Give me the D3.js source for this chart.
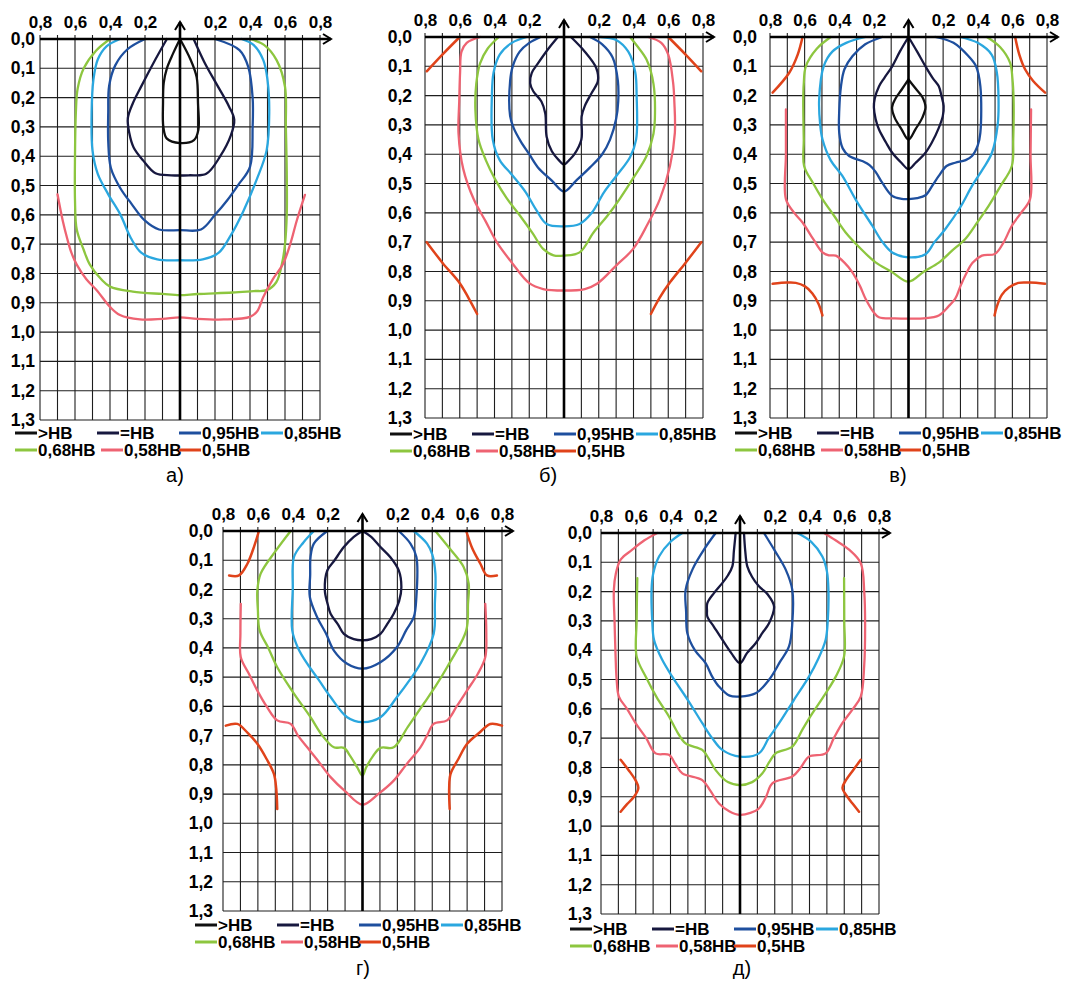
<!DOCTYPE html>
<html><head><meta charset="utf-8">
<script src="https://cdn.jsdelivr.net/npm/d3@7"></script>
<style>html,body{margin:0;padding:0;background:#fff;} svg{display:block;}</style>
</head><body>
<svg id="c" width="1068" height="983"></svg>
<script>
// ---------- tick values / labels ----------
const xTickValues = [-0.8,-0.6,-0.4,-0.2,0.2,0.4,0.6,0.8];
const yTickValues = [0,0.1,0.2,0.3,0.4,0.5,0.6,0.7,0.8,0.9,1.0,1.1,1.2,1.3];
const xGridValues = [-0.8,-0.7,-0.6,-0.5,-0.4,-0.3,-0.2,-0.1,0,0.1,0.2,0.3,0.4,0.5,0.6,0.7,0.8];
const legendLabels = [">НВ","=НВ","0,95НВ","0,85НВ","0,68НВ","0,58НВ","0,5НВ"];
const legendKeys = ["gt","eq","p95","p85","p68","p58","p5"];
const captions = ["а)","б)","в)","г)","д)"];

// ---------- panel а ----------
const a_gt = [[0,0],[-0.04,0.05],[-0.075,0.1],[-0.093,0.15],[-0.097,0.22],[-0.095,0.3],[-0.075,0.34],[0,0.355],[0.08,0.345],[0.105,0.31],[0.103,0.22],[0.095,0.13],[0.06,0.07],[0,0]];
const a_eq = [[-0.075,0],[-0.15,0.08],[-0.22,0.16],[-0.27,0.22],[-0.298,0.27],[-0.29,0.32],[-0.265,0.37],[-0.21,0.415],[-0.14,0.458],[-0.05,0.465],[0.05,0.465],[0.15,0.46],[0.23,0.4],[0.29,0.33],[0.31,0.275],[0.28,0.23],[0.21,0.155],[0.14,0.08],[0.078,0]];
const a_95 = [[-0.2,0],[-0.3,0.035],[-0.37,0.09],[-0.405,0.16],[-0.41,0.25],[-0.41,0.35],[-0.395,0.44],[-0.34,0.51],[-0.28,0.56],[-0.2,0.62],[-0.12,0.65],[0,0.652],[0.12,0.65],[0.2,0.6],[0.27,0.55],[0.33,0.5],[0.4,0.436],[0.415,0.3],[0.415,0.2],[0.39,0.095],[0.34,0.038],[0.2,0]];
const a_85 = [[-0.343,0],[-0.42,0.025],[-0.47,0.07],[-0.495,0.14],[-0.505,0.25],[-0.5,0.38],[-0.47,0.46],[-0.41,0.53],[-0.34,0.6],[-0.28,0.68],[-0.22,0.73],[-0.13,0.752],[0,0.755],[0.13,0.752],[0.22,0.73],[0.29,0.67],[0.36,0.59],[0.438,0.48],[0.495,0.38],[0.51,0.25],[0.5,0.14],[0.476,0.072],[0.42,0.02],[0.352,0]];
const a_68 = [[-0.4,0],[-0.48,0.04],[-0.55,0.1],[-0.585,0.17],[-0.595,0.25],[-0.6,0.4],[-0.6,0.55],[-0.59,0.65],[-0.55,0.72],[-0.515,0.77],[-0.45,0.82],[-0.4,0.845],[-0.27,0.862],[-0.1,0.87],[0,0.874],[0.1,0.87],[0.3,0.865],[0.42,0.86],[0.495,0.857],[0.55,0.83],[0.585,0.76],[0.6,0.7],[0.61,0.6],[0.61,0.45],[0.605,0.3],[0.6,0.163],[0.552,0.072],[0.48,0.02],[0.4,0]];
const a_58 = [[-0.7,0.53],[-0.67,0.62],[-0.645,0.68],[-0.62,0.73],[-0.59,0.77],[-0.535,0.82],[-0.476,0.857],[-0.4,0.914],[-0.343,0.942],[-0.229,0.957],[-0.1,0.955],[0,0.95],[0.1,0.955],[0.25,0.957],[0.4,0.948],[0.44,0.93],[0.476,0.88],[0.53,0.82],[0.59,0.766],[0.63,0.7],[0.667,0.62],[0.714,0.532]];

// ---------- panel б ----------
const b_eq = [[-0.035,0],[-0.09,0.04],[-0.15,0.09],[-0.186,0.123],[-0.195,0.157],[-0.176,0.186],[-0.13,0.22],[-0.108,0.26],[-0.1,0.34],[-0.07,0.39],[-0.03,0.42],[0,0.435],[0.03,0.42],[0.06,0.4],[0.1,0.35],[0.102,0.27],[0.12,0.235],[0.16,0.19],[0.195,0.15],[0.185,0.105],[0.12,0.05],[0.04,0]];
const b_95 = [[-0.135,0],[-0.2,0.02],[-0.255,0.05],[-0.295,0.1],[-0.31,0.15],[-0.31,0.27],[-0.29,0.31],[-0.25,0.355],[-0.2,0.4],[-0.15,0.445],[-0.07,0.49],[0,0.527],[0.07,0.49],[0.15,0.445],[0.22,0.4],[0.265,0.35],[0.3,0.28],[0.312,0.22],[0.31,0.15],[0.28,0.07],[0.22,0.025],[0.15,0]];
const b_85 = [[-0.215,0],[-0.3,0.02],[-0.37,0.06],[-0.405,0.12],[-0.415,0.2],[-0.41,0.35],[-0.37,0.42],[-0.3,0.47],[-0.22,0.53],[-0.16,0.59],[-0.1,0.638],[0,0.646],[0.09,0.638],[0.16,0.6],[0.23,0.53],[0.3,0.475],[0.38,0.41],[0.415,0.35],[0.418,0.2],[0.41,0.12],[0.37,0.05],[0.3,0.01],[0.21,0]];
const b_68 = [[-0.375,0],[-0.44,0.04],[-0.483,0.09],[-0.505,0.16],[-0.51,0.25],[-0.492,0.35],[-0.45,0.42],[-0.397,0.485],[-0.33,0.55],[-0.253,0.61],[-0.18,0.67],[-0.12,0.723],[-0.06,0.745],[0,0.746],[0.09,0.735],[0.17,0.667],[0.25,0.61],[0.32,0.553],[0.4,0.48],[0.475,0.406],[0.515,0.33],[0.523,0.28],[0.515,0.16],[0.475,0.077],[0.42,0.03],[0.38,0]];
const b_58 = [[-0.483,0],[-0.56,0.02],[-0.59,0.05],[-0.598,0.12],[-0.603,0.22],[-0.607,0.33],[-0.58,0.45],[-0.52,0.553],[-0.45,0.63],[-0.387,0.7],[-0.3,0.77],[-0.2,0.84],[-0.12,0.86],[0,0.865],[0.12,0.86],[0.19,0.842],[0.3,0.78],[0.398,0.723],[0.48,0.64],[0.552,0.553],[0.61,0.44],[0.638,0.327],[0.635,0.22],[0.628,0.156],[0.6,0.06],[0.56,0.02],[0.485,0]];
const b_5a = [[-0.6,0],[-0.7,0.06],[-0.79,0.117]];
const b_5b = [[0.6,0],[0.7,0.06],[0.79,0.117]];
const b_5c = [[-0.79,0.7],[-0.7,0.77],[-0.6,0.84],[-0.55,0.89],[-0.5,0.945]];
const b_5d = [[0.79,0.7],[0.7,0.77],[0.61,0.837],[0.55,0.89],[0.5,0.945]];

// ---------- panel в ----------
const v_gt = [[0,0.145],[-0.04,0.18],[-0.075,0.21],[-0.095,0.24],[-0.08,0.275],[-0.04,0.315],[0,0.35],[0.04,0.315],[0.08,0.275],[0.098,0.24],[0.08,0.205],[0.04,0.175],[0,0.145]];
const v_eq = [[0,0],[-0.05,0.05],[-0.094,0.1],[-0.14,0.14],[-0.17,0.168],[-0.195,0.21],[-0.2,0.24],[-0.19,0.28],[-0.171,0.315],[-0.13,0.36],[-0.094,0.395],[-0.04,0.43],[0,0.451],[0.04,0.43],[0.098,0.395],[0.135,0.36],[0.175,0.31],[0.198,0.27],[0.203,0.236],[0.19,0.2],[0.175,0.168],[0.14,0.14],[0.098,0.1],[0.05,0.05],[0,0]];
const v_95 = [[-0.152,0],[-0.25,0.025],[-0.324,0.066],[-0.37,0.11],[-0.39,0.168],[-0.4,0.25],[-0.4,0.327],[-0.38,0.38],[-0.343,0.406],[-0.26,0.425],[-0.225,0.437],[-0.19,0.46],[-0.152,0.497],[-0.094,0.542],[-0.04,0.552],[0,0.553],[0.05,0.55],[0.098,0.54],[0.14,0.505],[0.175,0.474],[0.22,0.44],[0.27,0.429],[0.33,0.42],[0.367,0.406],[0.4,0.37],[0.415,0.327],[0.415,0.168],[0.39,0.1],[0.347,0.066],[0.26,0.02],[0.155,0]];
const v_85 = [[-0.248,0],[-0.36,0.02],[-0.44,0.05],[-0.49,0.1],[-0.516,0.213],[-0.51,0.3],[-0.497,0.349],[-0.45,0.42],[-0.382,0.474],[-0.3,0.56],[-0.209,0.644],[-0.15,0.7],[-0.094,0.735],[0,0.752],[0.098,0.741],[0.15,0.7],[0.213,0.655],[0.3,0.58],[0.367,0.508],[0.43,0.45],[0.482,0.395],[0.515,0.3],[0.52,0.213],[0.51,0.12],[0.48,0.06],[0.4,0.02],[0.3,0]];
const v_68 = [[-0.449,0],[-0.53,0.04],[-0.593,0.1],[-0.605,0.16],[-0.608,0.213],[-0.605,0.35],[-0.603,0.44],[-0.55,0.5],[-0.497,0.553],[-0.43,0.61],[-0.363,0.667],[-0.28,0.72],[-0.19,0.769],[-0.1,0.8],[0,0.835],[0.09,0.8],[0.175,0.77],[0.25,0.73],[0.328,0.689],[0.4,0.63],[0.463,0.576],[0.53,0.51],[0.597,0.44],[0.605,0.35],[0.607,0.213],[0.6,0.14],[0.587,0.088],[0.53,0.035],[0.453,0]];
const v_58 = [[-0.708,0.247],[-0.708,0.4],[-0.708,0.553],[-0.66,0.6],[-0.612,0.633],[-0.55,0.69],[-0.497,0.735],[-0.46,0.745],[-0.42,0.746],[-0.37,0.77],[-0.324,0.803],[-0.28,0.85],[-0.248,0.893],[-0.2,0.94],[-0.171,0.956],[-0.08,0.96],[0,0.961],[0.09,0.96],[0.175,0.95],[0.23,0.92],[0.27,0.893],[0.3,0.85],[0.328,0.814],[0.37,0.77],[0.424,0.746],[0.5,0.74],[0.55,0.7],[0.597,0.644],[0.65,0.6],[0.702,0.553],[0.705,0.4],[0.708,0.247]];
const v_5a = [[-0.612,0],[-0.64,0.06],[-0.689,0.122],[-0.785,0.19]];
const v_5b = [[0.616,0],[0.64,0.06],[0.674,0.111],[0.72,0.15],[0.789,0.19]];
const v_5c = [[-0.785,0.842],[-0.7,0.838],[-0.651,0.839],[-0.6,0.85],[-0.555,0.875],[-0.52,0.91],[-0.497,0.95]];
const v_5d = [[0.789,0.842],[0.7,0.838],[0.635,0.839],[0.58,0.855],[0.539,0.88],[0.51,0.92],[0.497,0.95]];

// ---------- panel г ----------
const g_eq = [[0,0],[-0.05,0.02],[-0.107,0.055],[-0.16,0.1],[-0.202,0.135],[-0.216,0.203],[-0.2,0.25],[-0.183,0.283],[-0.14,0.32],[-0.107,0.352],[-0.05,0.37],[0,0.374],[0.05,0.37],[0.103,0.352],[0.14,0.32],[0.179,0.283],[0.21,0.24],[0.223,0.192],[0.208,0.135],[0.16,0.09],[0.103,0.055],[0.05,0.02],[0,0]];
const g_95 = [[-0.202,0],[-0.279,0.043],[-0.298,0.089],[-0.3,0.15],[-0.302,0.226],[-0.26,0.295],[-0.21,0.35],[-0.164,0.409],[-0.088,0.454],[0,0.471],[0.103,0.449],[0.198,0.397],[0.25,0.34],[0.294,0.295],[0.309,0.226],[0.309,0.089],[0.275,0.043],[0.208,0]];
const g_85 = [[-0.279,0],[-0.34,0.04],[-0.393,0.089],[-0.4,0.2],[-0.403,0.34],[-0.37,0.4],[-0.317,0.454],[-0.25,0.51],[-0.183,0.568],[-0.088,0.637],[0,0.654],[0.103,0.637],[0.198,0.568],[0.27,0.51],[0.332,0.454],[0.408,0.352],[0.415,0.25],[0.418,0.146],[0.4,0.08],[0.37,0.043],[0.294,0]];
const g_68 = [[-0.412,0],[-0.5,0.07],[-0.584,0.146],[-0.603,0.203],[-0.6,0.27],[-0.59,0.34],[-0.54,0.4],[-0.489,0.466],[-0.4,0.55],[-0.298,0.637],[-0.23,0.7],[-0.164,0.74],[-0.107,0.742],[-0.07,0.77],[-0.031,0.808],[0,0.837],[0.02,0.81],[0.06,0.77],[0.103,0.742],[0.179,0.74],[0.26,0.67],[0.351,0.591],[0.42,0.53],[0.485,0.466],[0.595,0.34],[0.605,0.25],[0.609,0.18],[0.58,0.123],[0.5,0.06],[0.418,0]];
const g_58 = [[-0.698,0.249],[-0.7,0.35],[-0.698,0.432],[-0.65,0.49],[-0.603,0.546],[-0.55,0.6],[-0.489,0.648],[-0.412,0.66],[-0.37,0.7],[-0.317,0.74],[-0.25,0.79],[-0.183,0.842],[-0.1,0.89],[0,0.936],[0.09,0.9],[0.179,0.854],[0.25,0.8],[0.332,0.74],[0.37,0.7],[0.408,0.66],[0.485,0.648],[0.54,0.6],[0.599,0.546],[0.66,0.49],[0.704,0.432],[0.71,0.35],[0.704,0.249]];
const g_5a = [[-0.594,0],[-0.62,0.05],[-0.66,0.112],[-0.708,0.152],[-0.765,0.152]];
const g_5b = [[0.595,0],[0.63,0.06],[0.676,0.112],[0.714,0.152],[0.771,0.152]];
const g_5c = [[-0.784,0.666],[-0.718,0.66],[-0.66,0.69],[-0.603,0.728],[-0.55,0.78],[-0.508,0.831],[-0.495,0.88],[-0.489,0.951]];
const g_5d = [[0.8,0.666],[0.733,0.66],[0.67,0.69],[0.6,0.728],[0.55,0.78],[0.505,0.831],[0.497,0.88],[0.5,0.951]];

// ---------- panel д ----------
const d_eq = [[-0.025,0],[-0.035,0.06],[-0.044,0.114],[-0.07,0.145],[-0.102,0.171],[-0.15,0.205],[-0.188,0.239],[-0.19,0.265],[-0.188,0.285],[-0.15,0.32],[-0.102,0.364],[-0.05,0.41],[0,0.444],[0.04,0.41],[0.09,0.376],[0.13,0.34],[0.167,0.308],[0.196,0.251],[0.16,0.21],[0.109,0.182],[0.07,0.15],[0.042,0.114],[0.03,0.06],[0.023,0]];
const d_95 = [[-0.14,0],[-0.2,0.05],[-0.274,0.125],[-0.313,0.194],[-0.31,0.27],[-0.303,0.342],[-0.26,0.4],[-0.198,0.444],[-0.16,0.49],[-0.121,0.524],[-0.06,0.555],[0,0.558],[0.09,0.547],[0.167,0.501],[0.23,0.44],[0.282,0.387],[0.301,0.308],[0.301,0.194],[0.263,0.125],[0.2,0.06],[0.138,0]];
const d_85 = [[-0.332,0],[-0.4,0.03],[-0.466,0.08],[-0.5,0.14],[-0.509,0.194],[-0.505,0.3],[-0.495,0.364],[-0.45,0.43],[-0.39,0.49],[-0.3,0.57],[-0.217,0.649],[-0.16,0.7],[-0.102,0.74],[0,0.763],[0.109,0.752],[0.165,0.7],[0.225,0.649],[0.31,0.57],[0.397,0.49],[0.45,0.43],[0.493,0.364],[0.505,0.3],[0.509,0.194],[0.5,0.13],[0.474,0.08],[0.41,0.03],[0.33,0]];
const d_68 = [[-0.591,0.154],[-0.595,0.3],[-0.595,0.421],[-0.543,0.49],[-0.48,0.56],[-0.409,0.626],[-0.36,0.68],[-0.313,0.718],[-0.217,0.74],[-0.18,0.77],[-0.14,0.809],[-0.07,0.85],[0,0.86],[0.07,0.85],[0.129,0.82],[0.17,0.78],[0.205,0.752],[0.301,0.729],[0.36,0.67],[0.417,0.615],[0.49,0.55],[0.551,0.49],[0.599,0.421],[0.6,0.3],[0.599,0.154]];
const d_58 = [[-0.476,0],[-0.55,0.025],[-0.62,0.057],[-0.687,0.091],[-0.715,0.14],[-0.726,0.194],[-0.722,0.3],[-0.716,0.421],[-0.71,0.5],[-0.697,0.558],[-0.65,0.6],[-0.601,0.649],[-0.54,0.7],[-0.486,0.752],[-0.409,0.757],[-0.37,0.79],[-0.332,0.82],[-0.217,0.843],[-0.17,0.88],[-0.121,0.923],[-0.06,0.95],[0,0.962],[0.06,0.955],[0.109,0.94],[0.15,0.9],[0.186,0.854],[0.301,0.831],[0.35,0.8],[0.397,0.763],[0.493,0.752],[0.54,0.7],[0.589,0.649],[0.65,0.6],[0.695,0.558],[0.715,0.45],[0.72,0.308],[0.715,0.2],[0.695,0.103],[0.628,0.057],[0.55,0.025],[0.484,0]];
const d_5a = [[-0.687,0.774],[-0.64,0.81],[-0.6,0.845],[-0.585,0.87],[-0.61,0.9],[-0.65,0.925],[-0.687,0.951]];
const d_5b = [[0.695,0.774],[0.65,0.81],[0.608,0.845],[0.59,0.87],[0.618,0.9],[0.65,0.925],[0.685,0.951]];

// ---------- style ----------
const colors = {gt:"#101010", eq:"#17183f", p95:"#1e4f9e", p85:"#2aa7df", p68:"#8dc63f", p58:"#ee6372", p5:"#e0431a"};

// ---------- series tables ----------
const panelSeries = [
  [["gt",a_gt],["eq",a_eq],["p95",a_95],["p85",a_85],["p68",a_68],["p58",a_58]],
  [["eq",b_eq],["p95",b_95],["p85",b_85],["p68",b_68],["p58",b_58],["p5",b_5a],["p5",b_5b],["p5",b_5c],["p5",b_5d]],
  [["gt",v_gt],["eq",v_eq],["p95",v_95],["p85",v_85],["p68",v_68],["p58",v_58],["p5",v_5a],["p5",v_5b],["p5",v_5c],["p5",v_5d]],
  [["eq",g_eq],["p95",g_95],["p85",g_85],["p68",g_68],["p58",g_58],["p5",g_5a],["p5",g_5b],["p5",g_5c],["p5",g_5d]],
  [["eq",d_eq],["p95",d_95],["p85",d_85],["p68",d_68],["p58",d_58],["p5",d_5a],["p5",d_5b]]
];

// layout (pixels) per panel
const layout = [
  {x0:40,  x1:320, y0:39,  y1:420, lblGap:5,  legX:15,  legY:433, capX:175, capY:482},
  {x0:425, x1:703, y0:37,  y1:418, lblGap:13, legX:390, legY:434, capX:548, capY:482},
  {x0:770, x1:1047,y0:37,  y1:418, lblGap:13, legX:735, legY:433, capX:898, capY:482},
  {x0:223, x1:502, y0:531, y1:911, lblGap:10, legX:195, legY:925, capX:363, capY:975},
  {x0:601, x1:879, y0:533, y1:914, lblGap:9,  legX:570, legY:929, capX:742, capY:975}
];
const legRow1 = [0,82,164,246];
const legRow2 = [0,86,164];

const svg = d3.select("#c");
const fmt = v => Math.abs(v).toFixed(1).replace(".", ",");
const FONT = "Liberation Sans, Arial, sans-serif";

layout.forEach((L, pi) => {
  const x = d3.scaleLinear().domain([-0.8, 0.8]).range([L.x0, L.x1]);
  const y = d3.scaleLinear().domain([0, 1.3]).range([L.y0, L.y1]);
  const g = svg.append("g");

  // grid
  g.append("g").selectAll("line").data(xGridValues).join("line")
    .attr("x1", d => x(d)).attr("x2", d => x(d))
    .attr("y1", y(0) - 4).attr("y2", y(1.3))
    .attr("stroke", "#1e1e1e").attr("stroke-width", 1.1);
  g.append("g").selectAll("line").data(yTickValues).join("line")
    .attr("x1", x(-0.8)).attr("x2", x(0.8))
    .attr("y1", d => y(d)).attr("y2", d => y(d))
    .attr("stroke", "#1e1e1e").attr("stroke-width", 1.1);

  // curves
  const line = d3.line().x(d => x(d[0])).y(d => y(d[1])).curve(d3.curveCatmullRom.alpha(0.5));
  panelSeries[pi].forEach(([k, pts]) => {
    g.append("path").attr("d", line(pts)).attr("fill", "none")
      .attr("stroke", colors[k]).attr("stroke-width", k === "p5" ? 2.5 : 2.3)
      .attr("stroke-linejoin", "round").attr("stroke-linecap", "round");
  });

  // axes lines (thick)
  const tipX = x(0.8) + 11, tipY = y(0) - 17;
  g.append("line").attr("x1", x(-0.8)).attr("x2", tipX).attr("y1", y(0)).attr("y2", y(0))
    .attr("stroke", "#000").attr("stroke-width", 2.6);
  g.append("path").attr("d", `M${tipX-8},${y(0)-5}L${tipX},${y(0)}L${tipX-8},${y(0)+5}`)
    .attr("fill", "none").attr("stroke", "#000").attr("stroke-width", 2);
  g.append("line").attr("x1", x(0)).attr("x2", x(0)).attr("y1", y(1.3)).attr("y2", tipY)
    .attr("stroke", "#000").attr("stroke-width", 2.6);
  g.append("path").attr("d", `M${x(0)-5},${tipY+8}L${x(0)},${tipY}L${x(0)+5},${tipY+8}`)
    .attr("fill", "none").attr("stroke", "#000").attr("stroke-width", 2);

  // top axis labels
  const ax = g.append("g").attr("transform", `translate(0,${y(0)})`)
    .call(d3.axisTop(x).tickValues(xTickValues).tickFormat(fmt).tickSize(0).tickPadding(11));
  ax.select(".domain").remove();
  ax.selectAll("text").attr("font-family", FONT)
    .attr("font-size", 17).attr("font-weight", "bold").attr("fill", "#000");

  // left axis labels
  const ay = g.append("g").attr("transform", `translate(${x(-0.8)},0)`)
    .call(d3.axisLeft(y).tickValues(yTickValues).tickFormat(d => d.toFixed(1).replace(".", ",")).tickSize(0).tickPadding(L.lblGap));
  ay.select(".domain").remove();
  ay.selectAll("text").attr("font-family", FONT)
    .attr("font-size", 17.5).attr("font-weight", "bold").attr("fill", "#000");

  // legend
  const items = legendKeys.map((k, i) => ({k, label: legendLabels[i],
    dx: i < 4 ? legRow1[i] : legRow2[i - 4], dy: i < 4 ? 0 : 17}));
  const lg = g.append("g").attr("transform", `translate(${L.legX},${L.legY})`);
  items.forEach(it => {
    lg.append("line").attr("x1", it.dx).attr("x2", it.dx + 22).attr("y1", it.dy).attr("y2", it.dy)
      .attr("stroke", colors[it.k]).attr("stroke-width", 3);
    lg.append("text").attr("x", it.dx + 23).attr("y", it.dy + 6)
      .attr("font-family", FONT).attr("font-size", 17)
      .attr("font-weight", "bold").attr("fill", "#000").text(it.label);
  });

  // caption
  g.append("text").attr("x", L.capX).attr("y", L.capY).attr("text-anchor", "middle")
    .attr("font-family", FONT).attr("font-size", 20)
    .attr("fill", "#000").text(captions[pi]);
});
</script>
</body></html>
